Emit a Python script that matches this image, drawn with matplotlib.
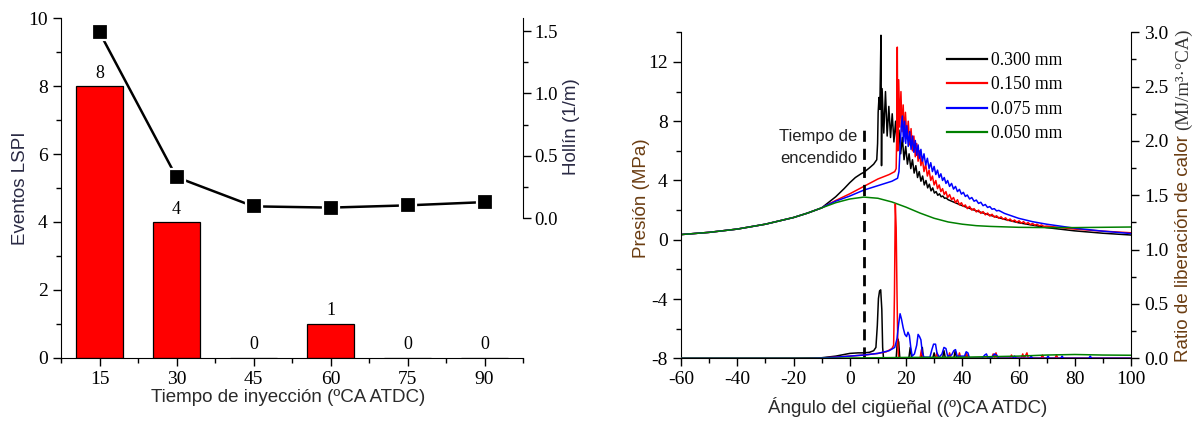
import matplotlib
matplotlib.use("Agg")
import matplotlib.pyplot as plt
from matplotlib.ticker import MultipleLocator, FormatStrFormatter
from matplotlib.lines import Line2D

plt.rcParams['axes.unicode_minus'] = False
SERIF = 'Liberation Serif'
SANS = 'Liberation Sans'

# ---------------- Left chart data ----------------
inj_timing = [15, 30, 45, 60, 75, 90]
lspi_events = [8, 4, 0, 1, 0, 0]
soot = [1.49, 0.33, 0.096, 0.086, 0.104, 0.13]

# ---------------- Right chart data ----------------
motoring = [(-60, 0.35), (-50, 0.5), (-40, 0.72), (-30, 1.05), (-20, 1.5), (-15, 1.8)]

p_050 = motoring + [(-10, 2.15), (-5, 2.5), (0, 2.75), (5, 2.88), (10, 2.8), (15, 2.55), (20, 2.2),
                    (25, 1.8), (30, 1.45), (35, 1.2), (40, 1.05), (45, 0.95), (50, 0.9), (60, 0.84),
                    (70, 0.82), (80, 0.82), (90, 0.84), (100, 0.86)]

p_300 = motoring + [(-10, 2.15), (-8, 2.45), (-5, 2.9), (-2, 3.45), (0, 3.85), (2, 4.2), (4, 4.45),
                    (5, 4.55), (7, 4.85), (8.5, 5.1), (9.6, 5.4), (9.9, 6.5), (10.1, 8.6), (10.4, 9.6),
                    (10.7, 8.8), (11.1, 13.8), (11.3, 5.0), (11.5, 10.2), (12.1, 7.2), (12.7, 10.0),
                    (13.3, 7.0), (13.9, 9.0), (14.5, 6.9), (15.1, 8.5), (15.7, 6.6), (16.3, 8.0),
                    (16.9, 6.2), (17.5, 7.4), (18.1, 5.8), (18.7, 6.9), (19.3, 5.4), (19.9, 6.3),
                    (20.5, 5.1), (21.1, 5.8), (21.7, 4.8), (22.3, 5.4), (22.9, 4.5), (23.5, 5.0),
                    (24.1, 4.2), (24.7, 4.6), (25.3, 3.95), (25.9, 4.3), (26.5, 3.7), (27.1, 4.0),
                    (27.7, 3.5), (28.3, 3.75), (28.9, 3.3), (29.5, 3.5), (30.1, 3.15), (30.7, 3.25),
                    (31.3, 3.0), (31.9, 3.1), (32.5, 2.9), (33.1, 2.95), (33.7, 2.8), (34.3, 2.82),
                    (35, 2.7), (40, 2.3), (45, 1.95), (50, 1.65), (55, 1.38), (60, 1.15), (70, 0.82),
                    (80, 0.6), (90, 0.44), (100, 0.32)]

p_150 = motoring + [(-10, 2.15), (-8, 2.35), (-5, 2.65), (0, 3.1), (5, 3.6), (10, 4.1), (14, 4.4),
                    (16.0, 4.6), (16.5, 4.8), (16.7, 7.0), (16.9, 13.0), (17.1, 6.0), (17.4, 10.8),
                    (17.8, 7.6), (18.2, 10.0), (18.6, 7.3), (19.0, 9.1), (19.4, 7.0), (19.8, 8.6),
                    (20.3, 6.8), (20.8, 8.0), (21.3, 6.4), (21.8, 7.5), (22.3, 6.0), (22.8, 7.0),
                    (23.3, 5.6), (23.8, 6.5), (24.3, 5.3), (24.8, 6.0), (25.3, 5.0), (25.8, 5.5),
                    (26.4, 4.6), (27.0, 5.1), (27.6, 4.3), (28.2, 4.7), (28.8, 4.0), (29.4, 4.3),
                    (30.0, 3.7), (30.6, 4.0), (31.2, 3.45), (31.8, 3.7), (32.4, 3.25), (33.0, 3.45),
                    (33.6, 3.05), (34.2, 3.25), (34.8, 2.85), (35.5, 3.05), (36.2, 2.7), (36.9, 2.85),
                    (37.6, 2.5), (38.3, 2.7), (39.0, 2.35), (39.7, 2.5), (40.4, 2.25), (41.1, 2.35),
                    (41.8, 2.1), (42.6, 2.25), (43.4, 2.0), (44.2, 2.1), (45.0, 1.88), (45.8, 2.0),
                    (46.6, 1.78), (47.4, 1.9), (48.2, 1.68), (49.0, 1.8), (49.8, 1.6), (50.6, 1.72),
                    (51.4, 1.52), (52.2, 1.62), (53.0, 1.45), (53.8, 1.55), (54.6, 1.38), (55.4, 1.48),
                    (56.2, 1.3), (57.0, 1.4), (57.8, 1.24), (58.6, 1.33), (59.4, 1.18), (60.2, 1.28),
                    (61.0, 1.12), (61.8, 1.22), (62.6, 1.07), (63.4, 1.16), (64.2, 1.02), (65.0, 1.1),
                    (65.8, 0.98), (66.6, 1.05), (67.4, 0.94), (68.2, 1.0), (69.0, 0.9), (70, 0.92),
                    (75, 0.82), (80, 0.72), (90, 0.58), (100, 0.47)]

p_075 = motoring + [(-10, 2.15), (-8, 2.35), (-5, 2.6), (0, 2.95), (5, 3.35), (10, 3.65), (15, 3.95),
                    (17, 4.15), (17.5, 4.6), (17.9, 6.2), (18.3, 7.6), (18.7, 8.35), (19.1, 6.6),
                    (19.5, 8.0), (19.9, 6.5), (20.3, 7.7), (20.8, 6.3), (21.3, 7.3), (21.8, 6.1),
                    (22.3, 7.0), (22.8, 5.9), (23.3, 6.7), (23.8, 5.7), (24.3, 6.4), (24.8, 5.5),
                    (25.3, 6.1), (25.8, 5.3), (26.4, 5.8), (27.0, 5.05), (27.6, 5.5), (28.2, 4.8),
                    (28.8, 5.2), (29.4, 4.6), (30.0, 4.95), (30.6, 4.4), (31.2, 4.7), (31.8, 4.2),
                    (32.4, 4.45), (33.0, 4.0), (33.6, 4.2), (34.2, 3.8), (34.8, 4.0), (35.5, 3.6),
                    (36.2, 3.8), (36.9, 3.42), (37.6, 3.6), (38.3, 3.25), (39.0, 3.4), (39.7, 3.08),
                    (40.4, 3.2), (41.1, 2.92), (41.8, 3.02), (42.6, 2.75), (43.4, 2.85), (44.2, 2.6),
                    (45.0, 2.68), (45.8, 2.45), (46.6, 2.53), (47.4, 2.3), (48.2, 2.38), (49.0, 2.18),
                    (49.8, 2.24), (50.6, 2.06), (51.4, 2.1), (52.2, 1.95), (53.0, 1.98), (55, 1.78),
                    (60, 1.45), (65, 1.22), (70, 1.05), (80, 0.78), (90, 0.58), (100, 0.42)]

hrr_300 = [(-60, 0), (-20, 0), (-10, 0.005), (-5, 0.02), (0, 0.045), (3, 0.05), (5, 0.05), (7, 0.055),
           (8.5, 0.07), (9.3, 0.1), (9.8, 0.3), (10.2, 0.55), (10.6, 0.62), (11.0, 0.63), (11.4, 0.45),
           (11.7, 0.1), (12.0, 0.0), (16.5, 0.0), (17.0, 0.18), (17.4, 0.15), (17.8, 0.0), (21.0, 0.0),
           (21.5, 0.1), (22.0, 0.0), (25.3, 0.0), (25.8, 0.1), (26.2, 0.0), (29.5, 0.0), (30, 0.05),
           (30.5, 0), (33, 0), (33.5, 0.07), (34, 0.0), (37, 0), (37.5, 0.07), (38, 0), (41, 0),
           (41.5, 0.04), (42, 0), (100, 0)]

hrr_150 = [(-60, 0), (-15, 0), (-10, 0.003), (-5, 0.01), (0, 0.02), (5, 0.03), (10, 0.045), (13, 0.06),
           (15, 0.09), (15.6, 0.12), (15.9, 0.6), (16.2, 1.42), (16.5, 1.2), (16.8, 0.6), (17.1, 0.1),
           (17.4, 0.0), (25, 0), (25.5, 0.08), (26, 0), (30.5, 0), (31, 0.05), (31.5, 0), (35, 0),
           (35.5, 0.05), (36, 0), (38.5, 0), (39, 0.05), (39.5, 0), (41, 0), (41.5, 0.04), (42, 0),
           (50.5, 0), (51, 0.04), (51.5, 0.01), (52, 0.05), (52.5, 0), (57, 0), (57.5, 0.03), (58, 0),
           (61, 0), (61.5, 0.04), (62, 0.0), (63, 0.05), (63.5, 0), (68, 0), (68.5, 0.03), (69, 0),
           (73, 0), (73.5, 0.03), (74, 0), (100, 0)]

hrr_075 = [(-60, 0), (-15, 0), (-10, 0.003), (-5, 0.01), (0, 0.02), (5, 0.03), (10, 0.045), (14, 0.07),
           (16, 0.1), (16.8, 0.18), (17.4, 0.32), (17.9, 0.41), (18.4, 0.36), (19, 0.28), (19.6, 0.22),
           (20.2, 0.2), (20.7, 0.24), (21.2, 0.21), (21.7, 0.1), (22.2, 0.02), (23, 0.04), (23.8, 0.12),
           (24.3, 0.22), (24.8, 0.2), (25.3, 0.17), (25.8, 0.05), (26.4, 0.01), (28.5, 0.01),
           (29.2, 0.08), (29.8, 0.13), (30.5, 0.13), (31.0, 0.05), (31.8, 0.01), (32.8, 0.04),
           (33.5, 0.1), (34.2, 0.09), (34.8, 0.02), (36.2, 0.03), (37, 0.07), (37.6, 0.08),
           (38.2, 0.02), (40.8, 0.02), (41.4, 0.06), (42, 0.05), (42.6, 0.0), (47, 0.0), (48, 0.03),
           (48.6, 0.04), (49.2, 0.0), (50.5, 0.01), (51.5, 0.04), (52.2, 0.03), (53, 0.0), (58, 0.0),
           (58.6, 0.02), (59.2, 0.0), (64, 0.0), (64.5, 0.02), (65, 0.0), (70, 0), (70.5, 0.02),
           (71, 0), (75, 0), (75.5, 0.02), (76, 0), (85, 0), (85.5, 0.02), (86, 0), (100, 0)]

hrr_050 = [(-60, 0), (-5, 0), (0, 0.003), (10, 0.005), (20, 0.008), (40, 0.01), (50, 0.015),
           (60, 0.02), (70, 0.03), (80, 0.035), (90, 0.03), (100, 0.028)]

series_labels = ['0.300 mm', '0.150 mm', '0.075 mm', '0.050 mm']
series_colors = ['#000000', '#ff0000', '#0000ff', '#008000']
ignition_angle = 5.2

# ---------------- Figure ----------------
W, H = 1193, 422
fig = plt.figure(figsize=(W / 100, H / 100), dpi=100)

def frac_box(l, t, r, b):
    return [l / W, 1 - b / H, (r - l) / W, (b - t) / H]

def fxy(x, y):
    return (x / W, 1 - y / H)

def style_ticks(ax, size):
    for lab in ax.get_xticklabels() + ax.get_yticklabels():
        lab.set_fontfamily(SERIF)
        lab.set_fontsize(size)

# ----- Left chart -----
ax1 = fig.add_axes(frac_box(61, 18.3, 523, 357.7))
ax1.bar(inj_timing, lspi_events, width=9, color='#ff0000', edgecolor='black', linewidth=0.9, zorder=2)
for x, v in zip(inj_timing, lspi_events):
    ax1.text(x, v + 0.38, str(v), ha='center', va='center', fontfamily=SERIF, fontsize=13)
ax1.set_xlim(7.5, 97.5)
ax1.set_ylim(0, 10)
ax1.set_xticks(inj_timing)
ax1.xaxis.set_minor_locator(MultipleLocator(7.5))
ax1.yaxis.set_major_locator(MultipleLocator(2))
ax1.yaxis.set_minor_locator(MultipleLocator(1))
ax1.spines['top'].set_visible(False)
ax1.spines['right'].set_visible(False)
ax1.tick_params(which='major', direction='out', length=6, width=1, labelsize=14)
ax1.tick_params(which='minor', direction='out', length=3.5, width=1)
style_ticks(ax1, 14)

ax1b = ax1.twinx()
ax1b.plot(inj_timing, soot, color='black', lw=1.8, marker='s', ms=11, mfc='black',
          mec='white', mew=1.6, zorder=3)
ax1b.set_ylim(-1.116, 1.602)
ax1b.set_yticks([0, 0.5, 1.0, 1.5])
ax1b.set_yticks([0.25, 0.75, 1.25], minor=True)
ax1b.yaxis.set_major_formatter(FormatStrFormatter('%.1f'))
for s in ['top', 'left', 'bottom']:
    ax1b.spines[s].set_visible(False)
ax1b.spines['right'].set_bounds(0, 1.602)
ax1b.tick_params(which='major', direction='out', length=6, width=1, labelsize=13.5, pad=2)
ax1b.tick_params(which='minor', direction='out', length=3.5, width=1)
style_ticks(ax1b, 13.5)

fig.text(*fxy(21, 188), 'Eventos LSPI', rotation=90, ha='center', va='center',
         fontfamily=SANS, fontsize=13.5, color='#2a2a44')
fig.text(*fxy(572, 127), 'Hollín (1/m)', rotation=90, ha='center', va='center',
         fontfamily=SANS, fontsize=13.5, color='#2a2a44')
fig.text(*fxy(288, 398), 'Tiempo de inyección (ºCA ATDC)', ha='center', va='center',
         fontfamily=SANS, fontsize=13.5, color='#2a2a2a')

# ----- Right chart -----
ax2 = fig.add_axes(frac_box(681, 32.3, 1131, 358.3))
pressure = [p_300, p_150, p_075, p_050]
for data, col in zip(pressure, series_colors):
    xs = [d[0] for d in data]
    ys = [d[1] for d in data]
    ax2.plot(xs, ys, color=col, lw=1.1)
ax2.plot([ignition_angle, ignition_angle], [-8, 7.6], color='black', lw=2,
         linestyle=(0, (4, 2.5)))
ax2.text(2.6, 6.95, 'Tiempo de', ha='right', va='center', fontfamily=SANS, fontsize=12,
         color='#222222')
ax2.text(2.6, 5.5, 'encendido', ha='right', va='center', fontfamily=SANS, fontsize=12,
         color='#222222')
ax2.set_xlim(-60, 100)
ax2.set_ylim(-8, 14)
ax2.xaxis.set_major_locator(MultipleLocator(20))
ax2.xaxis.set_minor_locator(MultipleLocator(10))
ax2.set_yticks([-8, -4, 0, 4, 8, 12])
ax2.set_yticks([-6, -2, 2, 6, 10, 14], minor=True)
ax2.spines['top'].set_visible(False)
ax2.spines['right'].set_visible(False)
ax2.tick_params(which='major', direction='out', length=6, width=1, labelsize=14)
ax2.tick_params(which='minor', direction='out', length=3.5, width=1)
style_ticks(ax2, 14)

ax2b = ax2.twinx()
hrr = [hrr_300, hrr_150, hrr_075, hrr_050]
for data, col in zip(hrr, series_colors):
    xs = [d[0] for d in data]
    ys = [d[1] for d in data]
    ax2b.plot(xs, ys, color=col, lw=1.1)
ax2b.set_ylim(0, 3.0)
ax2b.yaxis.set_major_locator(MultipleLocator(0.5))
ax2b.yaxis.set_minor_locator(MultipleLocator(0.25))
ax2b.yaxis.set_major_formatter(FormatStrFormatter('%.1f'))
for s in ['top', 'left', 'bottom']:
    ax2b.spines[s].set_visible(False)
ax2b.tick_params(which='major', direction='out', length=6, width=1, labelsize=14)
ax2b.tick_params(which='minor', direction='out', length=3.5, width=1)
style_ticks(ax2b, 14)

handles = [Line2D([], [], color=c, lw=1.6) for c in series_colors]
leg = ax2b.legend(handles, series_labels, loc='upper left', bbox_to_anchor=(0.592, 0.94),
                  frameon=False, prop={'family': SERIF, 'size': 12.7}, handlelength=2.25,
                  handletextpad=0.25, labelspacing=0.42, borderpad=0, borderaxespad=0)

fig.text(*fxy(642, 198), 'Presión (MPa)', rotation=90, ha='center', va='center',
         fontfamily=SANS, fontsize=13.5, color='#6b3d12')
fig.text(*fxy(908, 407), 'Ángulo del cigüeñal ((º)CA ATDC)', ha='center', va='center',
         fontfamily=SANS, fontsize=13.5, color='#2a2a2a')
t1 = fig.text(*fxy(1183, 362), 'Ratio de liberación de calor ', rotation=90, ha='center',
              va='bottom', fontfamily=SANS, fontsize=13.5, color='#6b3d12')
fig.canvas.draw()
bb = t1.get_window_extent(fig.canvas.get_renderer())
fig.text(1183 / W, bb.y1 / H, '(MJ/m³·°CA)', rotation=90, ha='center', va='bottom',
         fontfamily=SERIF, fontsize=13.5, color='#333333')

fig.savefig('out.png', dpi=100)
